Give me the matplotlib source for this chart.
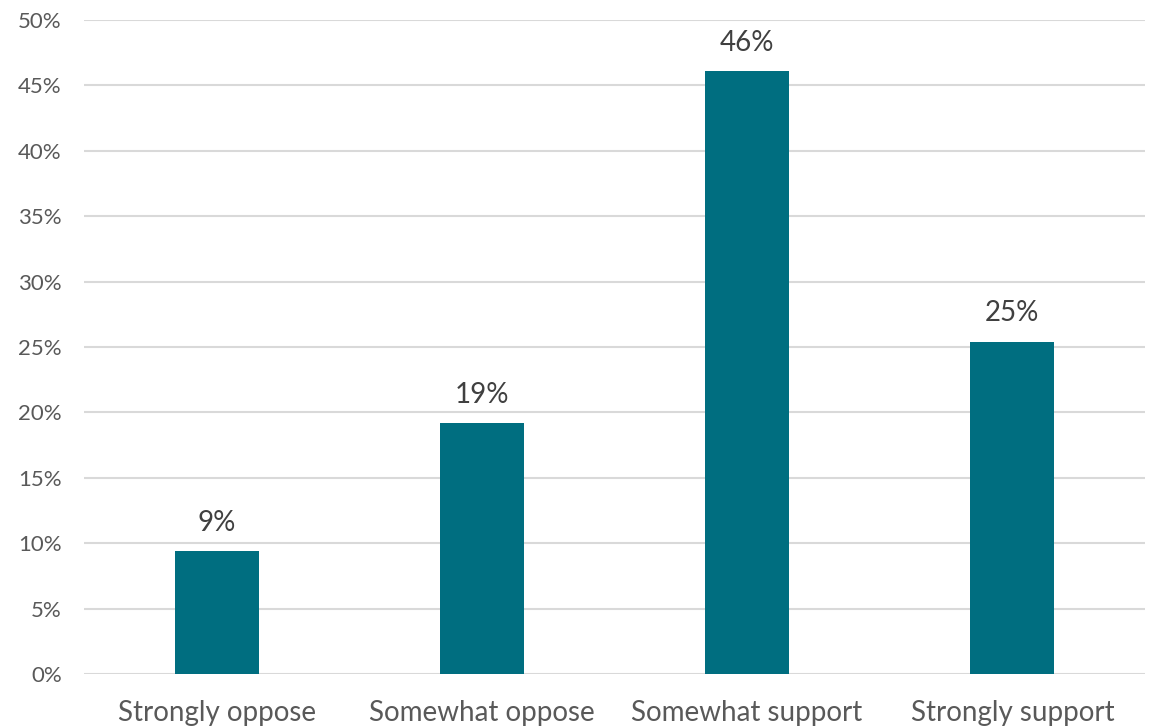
import matplotlib
matplotlib.use("Agg")
import matplotlib.pyplot as plt
from matplotlib.ticker import PercentFormatter

plt.rcParams["font.family"] = ["Lato", "DejaVu Sans"]

categories = ["Strongly oppose", "Somewhat oppose", "Somewhat support", "Strongly support"]
values = [9.4, 19.2, 46.1, 25.4]
labels = ["9%", "19%", "46%", "25%"]

text_color = "#595959"
bar_color = "#006E80"

fig = plt.figure(figsize=(11.55, 7.28), dpi=100)
ax = fig.add_axes([0.0727, 0.0742, 0.9186, 0.8983])

x = range(len(categories))
bars = ax.bar(x, values, width=0.317, color=bar_color, zorder=3)

for b, lab in zip(bars, labels):
    ax.annotate(lab, (b.get_x() + b.get_width() / 2, b.get_height()),
                xytext=(0, 11), textcoords="offset points",
                ha="center", va="bottom", fontsize=20, color="#404040")

ax.set_xlim(-0.5, len(categories) - 0.5)
ax.set_ylim(0, 50)
ax.set_yticks(range(0, 51, 5))
ax.yaxis.set_major_formatter(PercentFormatter(decimals=0))
ax.set_xticks(list(x))
ax.set_xticklabels(categories)

ax.grid(axis="y", color="#d9d9d9", linewidth=1.5, zorder=0)
for s in ax.spines.values():
    s.set_visible(False)
ax.tick_params(axis="both", length=0, colors=text_color)
ax.tick_params(axis="y", labelsize=16, pad=16)
ax.tick_params(axis="x", labelsize=20, pad=19)

fig.savefig("out.png", dpi=100)
